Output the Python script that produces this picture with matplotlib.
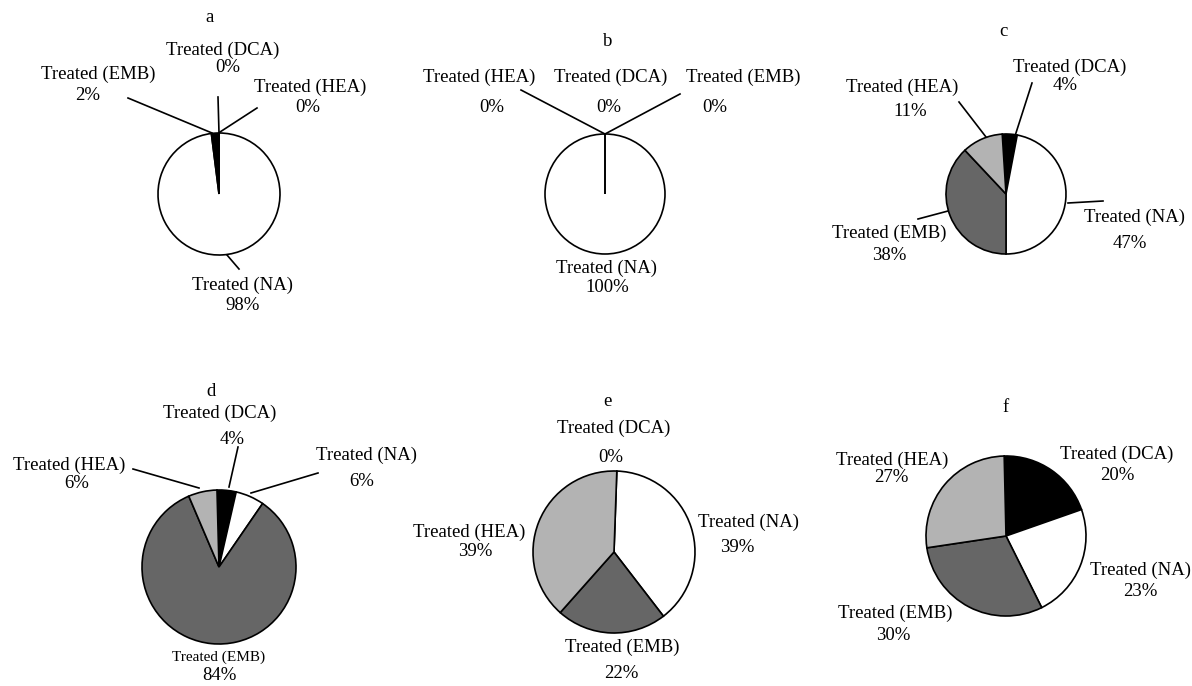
import matplotlib.pyplot as plt

plt.rcParams['font.family'] = ['Liberation Serif', 'DejaVu Serif']

# data: share of each treatment in every panel (%), order = clockwise from top
groups = ['Treated (DCA)', 'Treated (NA)', 'Treated (EMB)', 'Treated (HEA)']
colors = ['black', 'white', '#666666', '#b3b3b3']
panels = ['a', 'b', 'c', 'd', 'e', 'f']
share_a = [0, 98, 2, 0]
share_b = [0, 100, 0, 0]
share_c = [4, 47, 38, 11]
share_d = [4, 6, 84, 6]
share_e = [0, 39, 22, 39]
share_f = [20, 23, 30, 27]
shares = [share_a, share_b, share_c, share_d, share_e, share_f]

W, H = 1192, 686


def P(x, y):
    # pixel position (from top-left) -> axes coords
    return (x, H - y)


# layout in pixels: centre, radius, start angle, title pos,
# and for each group: name pos, percent pos, leader line
layout = {
    'a': dict(c=(219, 194), r=61, start=90, title=(210, 18),
              lab=[((223, 50), (228, 68), ((218, 97), (219, 133))),
                   ((243, 285), (243, 305), ((227, 255), (239, 269))),
                   ((98, 74), (88, 95), ((128, 98), (212, 133))),
                   ((310, 87), (308, 107), ((257, 108), (220, 132)))]),
    'b': dict(c=(605, 194), r=60, start=90, title=(608, 42),
              lab=[((611, 77), (609, 107), None),
                   ((606, 268), (607, 288), None),
                   ((743, 77), (715, 107), ((680, 94), (605, 134))),
                   ((479, 77), (492, 107), ((521, 90), (605, 134)))]),
    'c': dict(c=(1006, 194), r=60, start=93.6, title=(1003, 31),
              lab=[((1070, 67), (1065, 86), ((1032, 83), (1015, 136))),
                   ((1135, 217), (1130, 244), ((1103, 201), (1068, 203))),
                   ((889, 233), (889, 255), ((918, 219), (948, 211))),
                   ((902, 87), (910, 112), ((959, 102), (986, 137)))]),
    'd': dict(c=(219, 567), r=77, start=91.5, title=(211, 392),
              lab=[((220, 413), (232, 440), ((238, 447), (229, 487))),
                   ((366, 455), (362, 482), ((318, 473), (251, 493))),
                   ((219, 657), (219, 676), None),
                   ((69, 465), (77, 484), ((133, 469), (199, 488)))]),
    'e': dict(c=(614, 552), r=81, start=88, title=(607, 401),
              lab=[((614, 428), (611, 457), None),
                   ((748, 522), (737, 548), None),
                   ((622, 647), (621, 673), None),
                   ((469, 532), (475, 552), None)]),
    'f': dict(c=(1006, 536), r=80, start=91.3, title=(1006, 407),
              lab=[((1117, 454), (1117, 475), None),
                   ((1140, 570), (1140, 592), None),
                   ((895, 613), (893, 635), None),
                   ((892, 460), (891, 478), None)]),
}

fig = plt.figure(figsize=(W / 100, H / 100), dpi=100)
ax = fig.add_axes([0, 0, 1, 1])

fs = 13.5
for name, vals in zip(panels, shares):
    lo = layout[name]
    cols = list(colors)
    if name == 'a':
        cols[2] = 'black'  # thin EMB slice is printed black in panel a
    ax.pie(vals, colors=cols, center=P(*lo['c']), radius=lo['r'],
           startangle=lo['start'], counterclock=False,
           wedgeprops=dict(edgecolor='black', linewidth=1.2))
    ax.text(*P(*lo['title']), name, ha='center', va='center', fontsize=fs)
    for g, v, (npos, ppos, line) in zip(groups, vals, lo['lab']):
        size = fs
        if name == 'd' and g == 'Treated (EMB)':
            size = 11
        ax.text(*P(*npos), g, ha='center', va='center', fontsize=size)
        ax.text(*P(*ppos), f'{v}%', ha='center', va='center', fontsize=fs)
        if line is not None:
            (x1, y1), (x2, y2) = line
            ax.plot([x1, x2], [H - y1, H - y2], color='black', lw=1.2)

ax.set_xlim(0, W)
ax.set_ylim(0, H)
ax.set_aspect('equal')
ax.axis('off')

plt.savefig('out.png', dpi=100)
